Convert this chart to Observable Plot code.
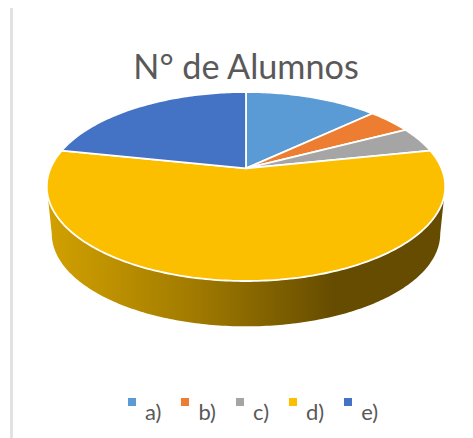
<!DOCTYPE html>
<html><head><meta charset="utf-8">
<script src="https://cdn.jsdelivr.net/npm/d3@7"></script>
<script src="https://cdn.jsdelivr.net/npm/@observablehq/plot@0.6"></script>
<style>
html,body{margin:0;padding:0;background:#fff}
#chart{position:relative;width:473px;height:438px;overflow:hidden;font-family:Lato,sans-serif;color:#595959}
#edge{position:absolute;left:10px;top:8px;width:3px;height:430px;background:#e2e2e2}
#title{position:absolute;left:0;top:44px;width:492px;text-align:center;font-size:34.2px;line-height:44px;font-weight:400}
#plot{position:absolute;left:0;top:88px}
#plot svg{display:block;background:none}
#legend{position:absolute;left:128px;top:398px;display:flex;font-size:22px;line-height:24px}
.it{display:flex;align-items:flex-start;margin-right:20px}
.sw{width:8px;height:8px;margin-right:9px}
.lb{margin-top:2px}
</style></head><body>
<div id="chart"><div id="edge"></div><div id="title">N° de Alumnos</div><div id="plot"></div><div id="legend"></div></div>
<script>
const categories = ["a)","b)","c)","d)","e)"];
const alumnos = [3,1,1,13,5];
const colors = ["#5b9bd5","#ed7d31","#a5a5a5","#fbbf00","#4472c4"];

// perspective: a true pie angle is foreshortened on the ellipse
const k = 0.824;
const tilt = (1 - k*k) / (1 + k*k);
const project = a => {
  const t = 2 * Math.atan2(k * Math.sin(a/2), Math.cos(a/2));
  return [Math.sin(t), Math.cos(t)];
};
const arcs = d3.pie().sort(null)(alumnos);
const slices = arcs.flatMap((arc,i) => {
  const n = Math.max(2, Math.ceil((arc.endAngle-arc.startAngle)*60));
  const pts = [[0, tilt]];
  for (let j=0;j<=n;j++) pts.push(project(arc.startAngle+(arc.endAngle-arc.startAngle)*j/n));
  pts.push([0, tilt]);
  return pts.map(([x,y]) => ({x,y,cat:categories[i]}));
});
// side wall of the disc
const wall = [];
const wx = 0.975, wy = -0.5;
for (let j=0;j<=180;j++){const t=Math.PI*(0.5+j/180); wall.push({x:Math.sin(t),y:Math.cos(t)});}
for (let j=180;j>=0;j--){const t=Math.PI*(0.5+j/180); wall.push({x:Math.sin(t)*wx,y:Math.cos(t)*0.98+wy});}

const defs = () => {
  const s = d3.create("svg:defs");
  const g = s.append("linearGradient").attr("id","wallGrad");
  [[0,"#d2a100"],[0.35,"#a47d00"],[0.72,"#664c00"],[1,"#664c00"]].forEach(([o,c]) =>
    g.append("stop").attr("offset",o).attr("stop-color",c));
  return s.node();
};

const plot = Plot.plot({
  width:473, height:300, margin:0,
  x:{domain:[-1,1],range:[46.3,444.7],axis:null},
  y:{domain:[-1,1],range:[192.5,3.5],axis:null},
  color:{type:"ordinal",domain:categories,range:colors},
  marks:[
    defs,
    Plot.line(wall,{x:"x",y:"y",fill:"url(#wallGrad)",stroke:"none"}),
    Plot.line(slices,{x:"x",y:"y",z:"cat",fill:"cat",stroke:"white",strokeWidth:1.8,strokeLinejoin:"round"})
  ]
});
document.getElementById("plot").append(plot);
const lg = d3.select("#legend");
categories.forEach((c,i)=>{
  const it = lg.append("div").attr("class","it");
  it.append("div").attr("class","sw").style("background",colors[i]);
  it.append("div").attr("class","lb").text(c);
});
</script></body></html>
